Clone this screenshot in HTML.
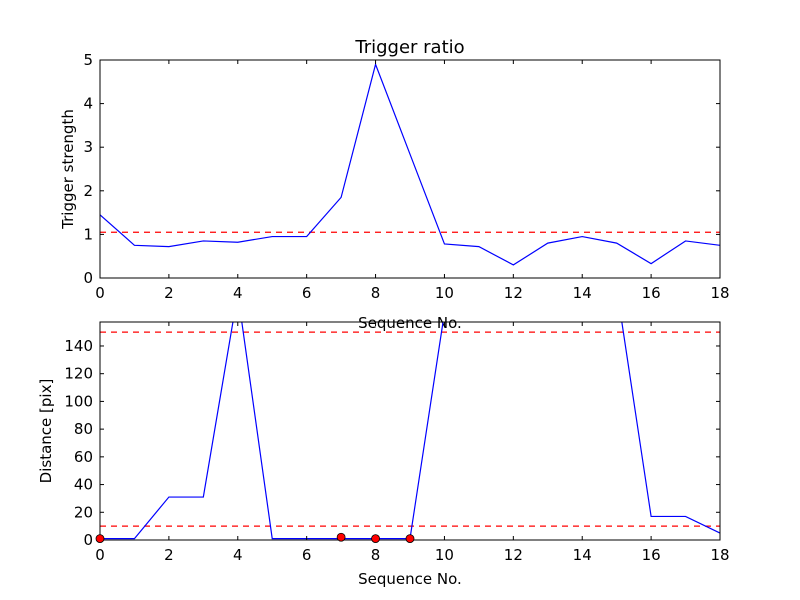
<!DOCTYPE html>
<html><head><meta charset="utf-8"><style>body{margin:0;background:#fff}svg{display:block;font-family:"DejaVu Sans","Liberation Sans",sans-serif}</style></head>
<body>
<svg id="fig" width="800" height="600" xmlns="http://www.w3.org/2000/svg">
<rect width="800" height="600" fill="#fff"/>
</svg>
<script>
const xVals=[0,1,2,3,4,5,6,7,8,9,10,11,12,13,14,15,16,17,18];
const triggerStrength=[1.45,0.75,0.72,0.85,0.82,0.95,0.95,1.85,4.9,2.84,0.78,0.72,0.3,0.8,0.95,0.8,0.33,0.85,0.75];
const triggerThreshold=[1.05];
const distance=[1,1,31,31,178,1,1,1,1,1,164,500,500,500,500,182,17,17,5];
const distanceThresholds=[10,150];
const markerX=[0,7,8,9];
const markerY=[1,2,1,1];
const xTicks=[0,2,4,6,8,10,12,14,16,18];
const topYTicks=[0,1,2,3,4,5];
const botYTicks=[0,20,40,60,80,100,120,140];
const NS="http://www.w3.org/2000/svg";
const svg=document.getElementById('fig');
function mk(tag,attrs,parent){const e=document.createElementNS(NS,tag);for(const k in attrs)e.setAttribute(k,attrs[k]);(parent||svg).appendChild(e);return e;}
function panel(name,L,T,R,B,ymin,ymax,yTicks,ylabel,xlabelY){
  const g=mk('g',{});
  
  
  const sx=v=>L+(v-0)/(18-0)*(R-L);
  const sy=v=>B-(v-ymin)/(ymax-ymin)*(B-T);
  const cid='clip-'+name;
  const cp=mk('clipPath',{id:cid},g);mk('rect',{x:L,y:T,width:R-L,height:B-T},cp);
  const plot=mk('g',{'clip-path':'url(#'+cid+')'},g);
  return {g,sx,sy,plot,L,T,R,B,yTicks,ylabel,xlabelY};
}
function axes(p){
  const {g,sx,sy,L,T,R,B}=p;
  const fr=mk('rect',{x:L,y:T,width:R-L,height:B-T,fill:'none',stroke:'#000','stroke-width':1},g);
  
  xTicks.forEach(v=>{const x=sx(v);
    mk('line',{x1:x,x2:x,y1:B,y2:B-4,stroke:'#000'},g);mk('line',{x1:x,x2:x,y1:T,y2:T+4,stroke:'#000'},g);
    const t=mk('text',{x:x,y:B+20,'font-size':15,'text-anchor':'middle'},g);t.textContent=v;
    });
  p.yTicks.forEach(v=>{const y=sy(v);
    mk('line',{x1:L,x2:L+4,y1:y,y2:y,stroke:'#000'},g);mk('line',{x1:R,x2:R-4,y1:y,y2:y,stroke:'#000'},g);
    const t=mk('text',{x:L-7,y:y+5,'font-size':15,'text-anchor':'end'},g);t.textContent=v;
    });
  const xl=mk('text',{x:(L+R)/2,y:p.xlabelY,'font-size':15,'text-anchor':'middle'},g);xl.textContent='Sequence No.';
  
}
function line(p,xs,ys,attrs,name){
  const d=xs.map((x,i)=>(i?'L':'M')+p.sx(x)+','+p.sy(ys[i])).join('');
  const e=mk('path',Object.assign({d:d,fill:'none'},attrs),p.plot);
  return e;
}
// top
const p1=panel('trigger-panel',100,60,720,278,0,5,topYTicks,'Trigger strength',328);
triggerThreshold.forEach(v=>line(p1,[0,18],[v,v],{stroke:'#f00','stroke-width':1.2,'stroke-dasharray':'6,5'},'threshold-line'));
line(p1,xVals,triggerStrength,{stroke:'#00f','stroke-width':1.2},'trigger-series');
axes(p1);
const yl1=mk('text',{x:73,y:169,'font-size':15,'text-anchor':'middle',transform:'rotate(-90 73 169)'});yl1.textContent='Trigger strength';

const tt=mk('text',{x:410,y:53,'font-size':18,'text-anchor':'middle'});tt.textContent='Trigger ratio';

// bottom
const p2=panel('distance-panel',100,322,720,540,0,157.3,botYTicks,'Distance [pix]',584);
distanceThresholds.forEach(v=>line(p2,[0,18],[v,v],{stroke:'#f00','stroke-width':1.2,'stroke-dasharray':'6,5'},'threshold-line'));
line(p2,xVals,distance,{stroke:'#00f','stroke-width':1.2},'distance-series');
markerX.forEach((x,i)=>{const c=mk('circle',{cx:p2.sx(x),cy:p2.sy(markerY[i]),r:4,fill:'#f00',stroke:'#000','stroke-width':0.8},svg);
  });
axes(p2);
const yl2=mk('text',{x:51,y:431,'font-size':15,'text-anchor':'middle',transform:'rotate(-90 51 431)'});yl2.textContent='Distance [pix]';

</script>
</body></html>
